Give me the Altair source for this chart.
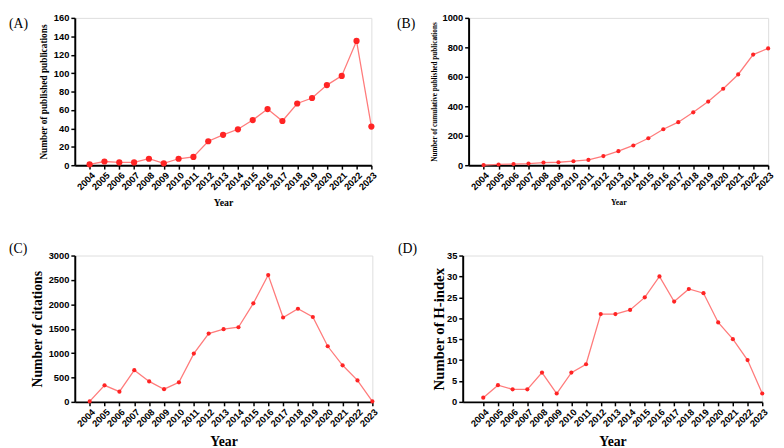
import altair as alt
import pandas as pd

years = list(range(2004, 2024))
publications = [1, 4, 3, 3, 7, 2, 7, 9, 26, 33, 39, 49, 61, 48, 67, 73, 87, 97, 135, 42]
cumulative = [1, 5, 8, 11, 18, 20, 27, 36, 62, 95, 134, 183, 244, 292, 359, 432, 519, 616, 751, 793]
citations = [10, 340, 210, 650, 420, 260, 400, 990, 1400, 1490, 1530, 2020, 2600, 1730, 1910, 1740, 1140, 750, 440, 10]
hindex = [1, 4, 3, 3, 7, 2, 7, 9, 21, 21, 22, 25, 30, 24, 27, 26, 19, 15, 10, 2]

SANS = "Arial, Liberation Sans, sans-serif"
SERIF = "Times New Roman, Liberation Serif, serif"
LINE_COLOR = "#ff7b7b"
POINT_COLOR = "#ff2424"


def panel(values, ymax, ystep, w, h, xmin, ytitle, ytfs, ytpad, xtfs, xtpad,
          psize, lab, labx, laby):
    df = pd.DataFrame({"year": years, "v": values})
    x = alt.X(
        "year:Q",
        scale=alt.Scale(domain=[xmin, 2023], nice=False, zero=False),
        axis=alt.Axis(
            values=years, format="d", labelAngle=-45, title="Year",
            titleFont=SERIF, titleFontSize=xtfs, titleFontWeight="bold",
            titlePadding=xtpad, titleColor="black",
            labelFont=SANS, labelFontWeight="bold", labelFontSize=9.5,
            labelColor="black", labelOverlap=False, labelFlush=False,
            labelPadding=1, tickSize=4, tickWidth=1.5, tickColor="black",
            domainWidth=2, domainColor="black", grid=False,
        ),
    )
    y = alt.Y(
        "v:Q",
        scale=alt.Scale(domain=[0, ymax], nice=False),
        axis=alt.Axis(
            values=list(range(0, ymax + 1, ystep)), format="d", title=ytitle,
            titleFont=SERIF, titleFontSize=ytfs, titleFontWeight="bold",
            titlePadding=ytpad, titleColor="black",
            labelFont=SANS, labelFontWeight="bold", labelFontSize=9.5,
            labelColor="black", labelPadding=2, tickSize=4, tickWidth=1.5,
            tickColor="black", domainWidth=2, domainColor="black", grid=False,
        ),
    )
    line = alt.Chart(df).mark_line(color=LINE_COLOR, strokeWidth=1.3).encode(x=x, y=y)
    pts = alt.Chart(df).mark_circle(color=POINT_COLOR, size=psize, opacity=1).encode(x=x, y=y)
    txt = alt.Chart(pd.DataFrame({"t": [lab]})).mark_text(
        font=SERIF, fontSize=14, align="left", baseline="middle", color="black"
    ).encode(text="t:N", x=alt.value(labx), y=alt.value(laby))
    return alt.layer(line, pts, txt).properties(width=w, height=h)


pA = panel(publications, 160, 20, 302, 150, 2003, "Number of published  publications",
           9.5, 5, 10, 6, 40, "(A)", -67, 6)
pB = panel(cumulative, 1000, 200, 305, 150, 2003, "Number of cumulative published  publications",
           7.3, 4, 8, 7, 18, "(B)", -73, 6)
pC = panel(citations, 3000, 500, 303, 149, 2003, "Number of citations",
           14, 4, 14, 7, 18, "(C)", -67, -7)
pD = panel(hindex, 35, 5, 305, 149, 2002.6, "Number of H-index",
           15, 0, 14, 7, 18, "(D)", -66, -7)

row1 = alt.hconcat(pA, pB, spacing=99, bounds="flush")
row2 = alt.hconcat(pC, pD, spacing=92, bounds="flush")
chart = alt.vconcat(row1, row2, spacing=33).properties(
    padding={"left": 0, "top": 0, "right": 0, "bottom": 0}
).configure_view(stroke=None).configure(background="white")

chart.save("out.html", embed_options={"renderer": "svg", "actions": False})
